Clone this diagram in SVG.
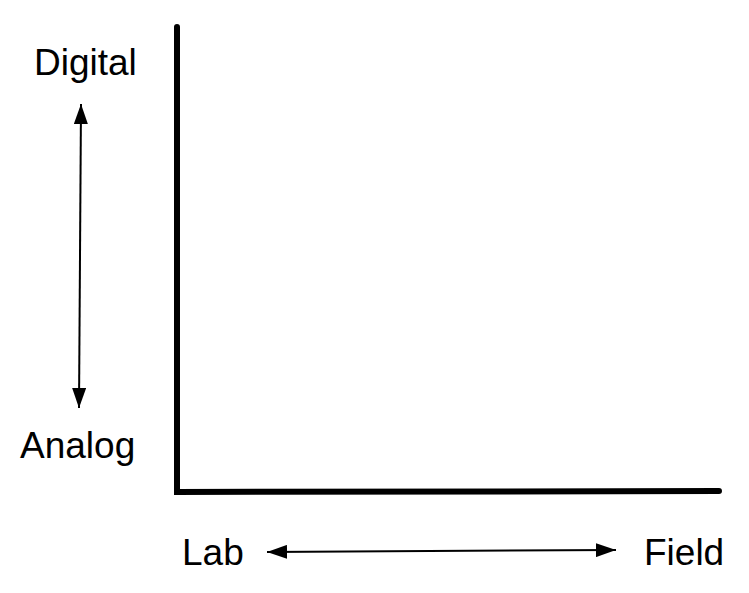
<svg xmlns="http://www.w3.org/2000/svg" width="749" height="593" viewBox="0 0 749 593">
<style>
.lbl{font-family:"Liberation Sans",Arial,sans-serif;font-size:37px;fill:#000}
.axis{stroke:#000;stroke-width:6;fill:none;stroke-linecap:round;stroke-linejoin:miter}
.arr{stroke:#000;stroke-width:2;fill:none}
</style>
<defs>
<marker id="ah" viewBox="0 0 20 14" refX="20" refY="7" markerWidth="20" markerHeight="14" markerUnits="userSpaceOnUse" orient="auto-start-reverse">
<path d="M0,0 L20,7 L0,14 Z" fill="#000"/>
</marker>
</defs>
<rect width="749" height="593" fill="#fff"/>
<g id="axes">
<path class="axis" d="M177,27 L177,492 L719,491"/>
</g>
<g id="connectors">
<line class="arr" x1="81" y1="104" x2="79" y2="408" marker-start="url(#ah)" marker-end="url(#ah)"/>
<line class="arr" x1="267" y1="552" x2="616" y2="550" marker-start="url(#ah)" marker-end="url(#ah)"/>
</g>
<g id="digital"><text class="lbl" x="34" y="75">Digital</text></g>
<g id="analog"><text class="lbl" x="20" y="458">Analog</text></g>
<g id="lab"><text class="lbl" x="182" y="565">Lab</text></g>
<g id="field"><text class="lbl" x="644" y="565">Field</text></g>
</svg>
